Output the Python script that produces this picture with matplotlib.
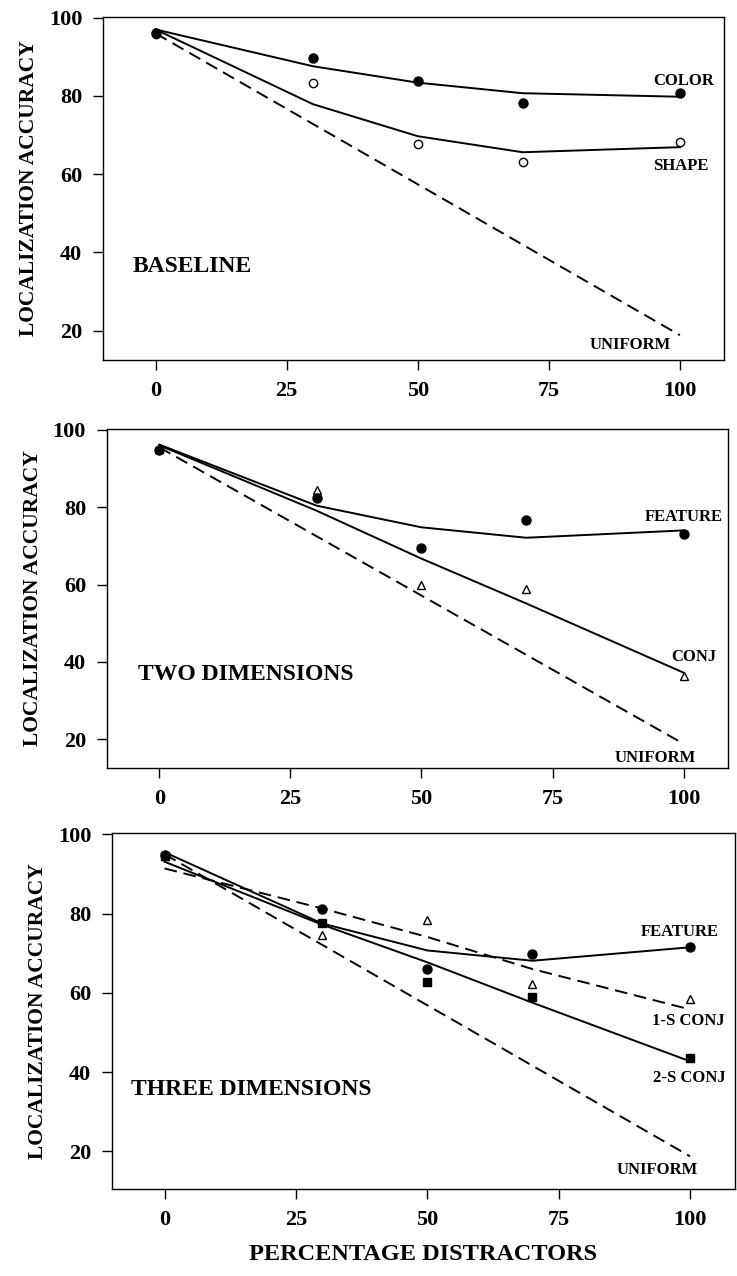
import matplotlib
matplotlib.use('Agg')
import matplotlib.pyplot as plt

# percentage of distractors at which accuracy was measured
levels = [0, 30, 50, 70, 100]
uniform_x = [0, 100]

# baseline panel
base_color_obs = [96.2, 89.7, 83.9, 78.1, 80.7]
base_shape_obs = [95.8, 83.3, 67.6, 63.2, 68.2]
base_color_fit = [97.0, 87.6, 83.4, 80.7, 79.8]
base_shape_fit = [97.0, 77.9, 69.7, 65.6, 66.9]
base_uniform = [96.0, 18.8]

# two dimensions panel
two_feat_obs = [94.9, 82.3, 69.4, 76.6, 73.1]
two_conj_obs = [95.0, 84.5, 60.0, 58.8, 36.3]
two_feat_fit = [96.2, 80.4, 74.8, 72.1, 74.0]
two_conj_fit = [96.0, 79.1, 66.7, 55.1, 37.2]
two_uniform = [95.5, 18.8]

# three dimensions panel
three_feat_obs = [94.8, 81.1, 66.0, 69.7, 71.5]
three_conj1_obs = [94.6, 74.7, 78.5, 62.2, 58.4]
three_conj2_obs = [94.5, 77.7, 62.8, 59.0, 43.6]
three_feat_fit = [95.5, 77.5, 70.7, 68.1, 71.5]
three_conj1_fit = [91.4, 81.3, 74.1, 66.0, 55.8]
three_conj2_fit = [93.1, 77.2, 67.7, 57.5, 42.7]
three_uniform = [95.0, 18.7]

xticks = [0, 25, 50, 75, 100]
yticks = [20, 40, 60, 80, 100]

FONT = 'Liberation Serif'
DASH = (0, (6.5, 3.5))


def style_axes(ax, ylo):
    ax.set_xlim(-10, 108.5)
    ax.set_ylim(ylo, 100.3)
    ax.set_xticks(xticks)
    ax.set_yticks(yticks)
    ax.tick_params(direction='out', length=7, width=1, pad=8)
    for lab in ax.get_xticklabels() + ax.get_yticklabels():
        lab.set_fontfamily(FONT)
        lab.set_fontweight('bold')
        lab.set_fontsize(16)
    for s in ax.spines.values():
        s.set_linewidth(1)
    ax.set_ylabel('LOCALIZATION ACCURACY', fontfamily=FONT, fontweight='bold',
                  fontsize=15.5, labelpad=7)


def label(ax, x, y, s, size=12, ha='center'):
    ax.text(x, y, s, fontfamily=FONT, fontweight='bold', fontsize=size,
            ha=ha, va='center')


fig = plt.figure(figsize=(7.37, 12.76), dpi=100)

# ---- BASELINE ----
ax1 = fig.add_axes([0.140, 0.718, 0.843, 0.269])
ax1.plot(uniform_x, base_uniform, color='black', lw=1.4, ls=DASH)
ax1.plot(levels, base_color_fit, color='black', lw=1.4)
ax1.plot(levels, base_shape_fit, color='black', lw=1.4)
ax1.plot(levels, base_shape_obs, 'o', ms=6, mfc='white', mec='black', mew=1)
ax1.plot(levels, base_color_obs, 'o', ms=6.5, color='black')
label(ax1, 100.8, 83.8, 'COLOR')
label(ax1, 100.2, 62.2, 'SHAPE')
label(ax1, 90.5, 16.2, 'UNIFORM')
label(ax1, -4.4, 36.4, 'BASELINE', size=17, ha='left')
style_axes(ax1, 12.5)

# ---- TWO DIMENSIONS ----
ax2 = fig.add_axes([0.145, 0.398, 0.843, 0.266])
ax2.plot(uniform_x, two_uniform, color='black', lw=1.4, ls=DASH)
ax2.plot(levels, two_feat_fit, color='black', lw=1.4)
ax2.plot(levels, two_conj_fit, color='black', lw=1.4)
ax2.plot(levels, two_conj_obs, '^', ms=6, mfc='white', mec='black', mew=1)
ax2.plot(levels, two_feat_obs, 'o', ms=6.5, color='black')
label(ax2, 100.0, 77.4, 'FEATURE')
label(ax2, 102.0, 41.3, 'CONJ')
label(ax2, 94.6, 15.1, 'UNIFORM')
label(ax2, -4.0, 36.6, 'TWO DIMENSIONS', size=17, ha='left')
style_axes(ax2, 12.5)

# ---- THREE DIMENSIONS ----
ax3 = fig.add_axes([0.152, 0.068, 0.845, 0.279])
ax3.plot(uniform_x, three_uniform, color='black', lw=1.4, ls=DASH)
ax3.plot(levels, three_conj1_fit, color='black', lw=1.4, ls=DASH)
ax3.plot(levels, three_feat_fit, color='black', lw=1.4)
ax3.plot(levels, three_conj2_fit, color='black', lw=1.4)
ax3.plot(levels, three_conj1_obs, '^', ms=6, mfc='white', mec='black', mew=1)
ax3.plot(levels, three_feat_obs, 'o', ms=6.5, color='black')
ax3.plot(levels, three_conj2_obs, 's', ms=5.5, color='black')
label(ax3, 98.1, 75.3, 'FEATURE')
label(ax3, 99.6, 52.9, '1-S CONJ')
label(ax3, 99.8, 38.5, '2-S CONJ')
label(ax3, 93.7, 15.2, 'UNIFORM')
label(ax3, -6.3, 35.5, 'THREE DIMENSIONS', size=17, ha='left')
style_axes(ax3, 10.4)
ax3.set_xlabel('PERCENTAGE DISTRACTORS', fontfamily=FONT, fontweight='bold',
               fontsize=17.5, labelpad=10)

fig.savefig('out.png', dpi=100)
